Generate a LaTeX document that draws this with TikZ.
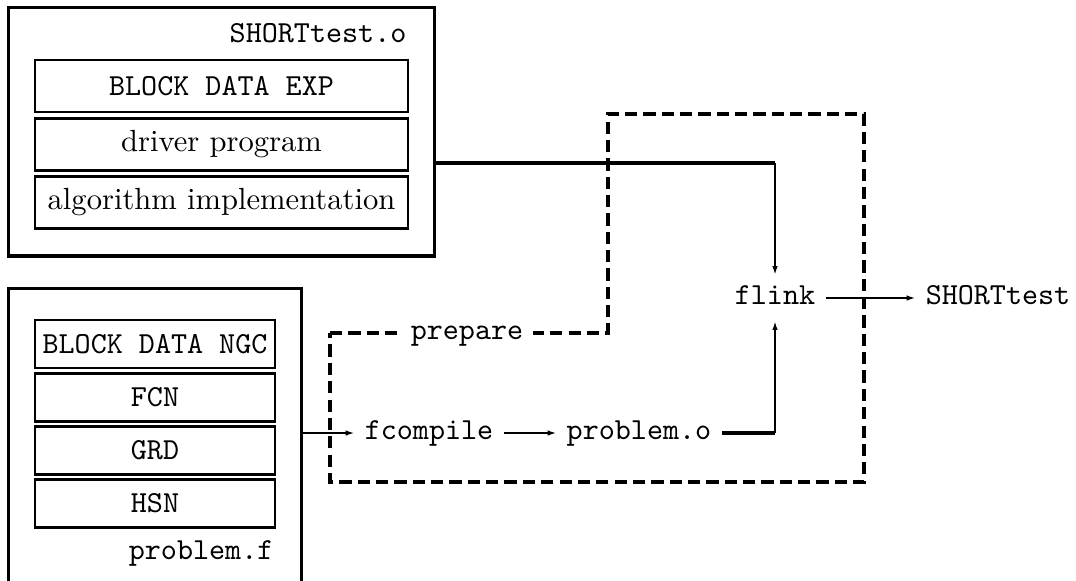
\documentclass[tikz,border=0pt]{standalone}
\usetikzlibrary{arrows.meta,positioning}
\begin{document}
\begin{tikzpicture}[x=0.011486cm,y=-0.011486cm,>={Latex[length=2.7pt,width=1.8pt]},line join=miter,
	outerbox/.style={draw,line width=1pt,inner sep=0pt},
	upbox/.style={draw,line width=0.8pt,inner sep=0pt,minimum width=4.284cm,minimum height=0.6cm},
	lowbox/.style={draw,line width=0.8pt,inner sep=0pt,minimum width=2.757cm,minimum height=0.551cm,font=\ttfamily},
	tool/.style={font=\ttfamily,text height=6.2pt,text depth=2.2pt},
	flow/.style={->,line width=0.4pt},
	feed/.style={line width=1pt},
	prep/.style={line width=1pt,dash pattern=on 4pt off 2pt}]
	\clip (0,0) rectangle (1076,580);
	% object file with its three parts
	\node[outerbox,minimum width=4.905cm,minimum height=2.860cm] (objbox) at (221.5,131.5) {};
	\node[anchor=base east,inner sep=0pt,font=\ttfamily] (objname) at (407,42) {SHORTtest.o};
	\node[upbox,font=\ttfamily] (bdexp) at (221.5,86) {BLOCK DATA EXP};
	\node[upbox] (driver) at (221.5,144.5) {driver program};
	\node[upbox] (algo) at (221.5,202.5) {algorithm implementation};
	% source file
	\node[outerbox,minimum width=3.377cm,minimum height=4.158cm] (srcbox) at (155,469) {};
	\foreach \n/\t/\y in {ngc/BLOCK DATA NGC/344,fcn/FCN/397.5,grd/GRD/450.5,hsn/HSN/503.5}
		\node[lowbox] (\n) at (155,\y) {\t};
	\node[anchor=base east,inner sep=0pt,font=\ttfamily] (srcname) at (274,559) {problem.f};
	% prepare region
	\draw[prep] (330,333) -- (608,333) -- (608,114) -- (864,114) -- (864,482) -- (330,482) -- cycle;
	\node[tool,fill=white] (prepare) at (467,333) {prepare};
	\node[tool] (fcompile) at (429,433) {fcompile};
	\node[tool] (probobj) at (639,433) {problem.o};
	\node[tool] (flink) at (775,298) {flink};
	\node[tool] (exe) at (998,298) {SHORTtest};
	\coordinate (turn) at (775,163);
	\draw[flow] (srcbox.east |- fcompile) -- (fcompile);
	\draw[flow] (fcompile) -- (probobj);
	\draw[feed] (objbox.east |- turn) -- (turn);
	\draw[flow] (turn) -- (flink);
	\draw[feed] (probobj) -- (probobj -| flink);
	\draw[flow] (probobj -| flink) -- (flink);
	\draw[flow] (flink) -- (exe);
\end{tikzpicture}
\end{document}
